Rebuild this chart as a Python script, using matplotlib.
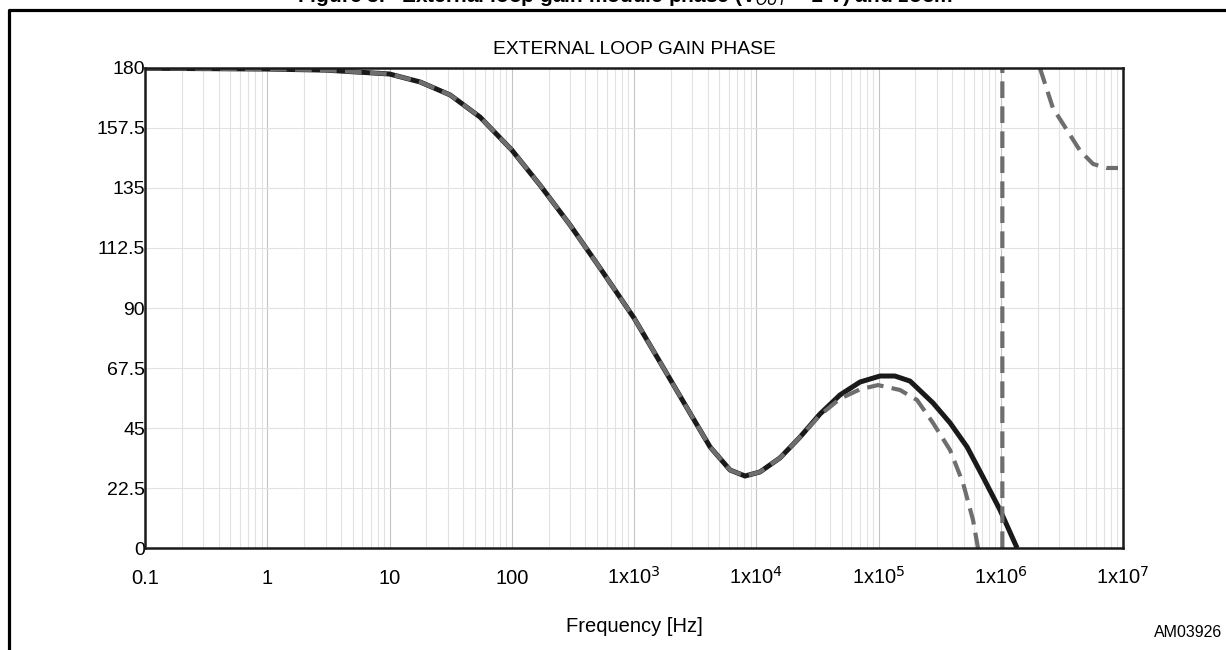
import matplotlib.pyplot as plt
import numpy as np
from matplotlib.lines import Line2D
from matplotlib.ticker import FixedLocator, LogLocator, NullFormatter

plt.rcParams['font.family'] = ['Liberation Sans', 'DejaVu Sans']

# solid curve: phase (Hz, degrees)
freq_solid = [0.1, 1, 3, 10, 17.8, 31.3, 55, 100, 170, 300, 527, 1e3, 1630, 2870,
              4190, 6100, 8090, 10700, 15600, 22800, 33200, 48400, 70600, 1.03e5,
              1.36e5, 1.81e5, 2.79e5, 3.85e5, 5.3e5, 7.16e5, 9.86e5, 1.36e6]
phase_solid = [179.9, 179.6, 179.2, 177.75, 174.75, 169.9, 161.6, 149.25, 136.1,
               121.1, 105.0, 86.25, 69.75, 50.6, 37.9, 29.25, 27.0, 28.5, 33.75,
               41.6, 50.25, 57.4, 62.25, 64.5, 64.5, 62.6, 54.4, 46.9, 37.9, 26.6,
               14.25, 0.0]

# dashed curve (NaN breaks the wrap-around)
freq_dash = [0.1, 1, 3, 10, 17.8, 31.3, 55, 100, 170, 300, 527, 1e3, 1630, 2870,
             4190, 6100, 8090, 10700, 15600, 22800, 33200, 48400, 70600, 99100,
             1.5e5, 2.065e5, 2.79e5, 3.846e5, 4.91e5, 5.93e5, 6.51e5, np.nan,
             1.03e6, 1.03e6, np.nan,
             2.09e6, 2.67e6, 3.48e6, 4.45e6, 5.69e6, 7.4e6, 9.1e6]
phase_dash = [179.9, 179.6, 179.2, 177.75, 174.75, 169.9, 161.6, 149.25, 136.1,
              121.1, 105.0, 86.25, 69.75, 50.6, 37.9, 29.25, 27.0, 28.5, 33.75,
              41.6, 49.8, 56.0, 59.5, 61.1, 59.25, 55.5, 46.9, 36.75, 24.4, 10.5,
              0.0, np.nan,
              0.0, 180.0, np.nan,
              180.0, 165.0, 156.7, 149.0, 144.0, 142.5, 142.5]

x_ticks = [0.1, 1, 10, 100, 1e3, 1e4, 1e5, 1e6, 1e7]
x_labels = ['0.1', '1', '10', '100', r'1x10$^{3}$', r'1x10$^{4}$',
            r'1x10$^{5}$', r'1x10$^{6}$', r'1x10$^{7}$']
y_ticks = [0, 22.5, 45, 67.5, 90, 112.5, 135, 157.5, 180]
y_labels = ['0', '22.5', '45', '67.5', '90', '112.5', '135', '157.5', '180']

fig = plt.figure(figsize=(12.26, 6.5), dpi=100)
ax = fig.add_axes([0.1183, 0.1569, 0.7977, 0.7385])

ax.plot(freq_solid, phase_solid, color='#1a1a1a', linewidth=3.6,
        solid_joinstyle='round', solid_capstyle='butt')
ax.plot(freq_dash, phase_dash, color='#6e6e6e', linewidth=3.0, dashes=(4, 2.0))

ax.set_xscale('log')
ax.set_xlim(0.1, 1e7)
ax.set_ylim(0, 180)

ax.xaxis.set_major_locator(FixedLocator(x_ticks))
ax.set_xticklabels(x_labels, fontsize=14.5)
for lbl in ax.get_xticklabels():
    lbl.set_verticalalignment('baseline')
ax.xaxis.set_minor_locator(LogLocator(base=10, subs=np.arange(2, 10), numticks=20))
ax.xaxis.set_minor_formatter(NullFormatter())
ax.set_yticks(y_ticks)
ax.set_yticklabels(y_labels, fontsize=14)

ax.tick_params(axis='both', which='both', length=0)
ax.tick_params(axis='x', pad=26)
ax.tick_params(axis='y', pad=0)

ax.grid(which='major', axis='x', color='#c4c4c4', linewidth=0.8)
ax.grid(which='minor', axis='x', color='#e2e2e2', linewidth=0.8)
ax.grid(which='major', axis='y', color='#e2e2e2', linewidth=0.8)
ax.set_axisbelow(True)

for s in ax.spines.values():
    s.set_linewidth(1.8)
    s.set_color('#1a1a1a')

ax.set_title('EXTERNAL LOOP GAIN PHASE', fontsize=13.9, pad=10)
ax.set_xlabel('Frequency [Hz]', fontsize=14.5, labelpad=21)

fig.text(0.997, 0.015, 'AM03926', ha='right', va='bottom', fontsize=11.5)

# outer frame (left and top only)
fig.add_artist(Line2D([0.0075, 0.0075, 1.0], [0.0, 0.9846, 0.9846],
                      transform=fig.transFigure, color='black', linewidth=2.3))

# caption clipped by the top edge
fig.text(0.51, 1 - 2.5 / 650, r'Figure 8.   External loop gain module phase (V$_{OUT}$ = 1 V) and zoom',
         ha='center', va='baseline', fontsize=15, fontweight='bold')

fig.savefig('out.png', dpi=100)
